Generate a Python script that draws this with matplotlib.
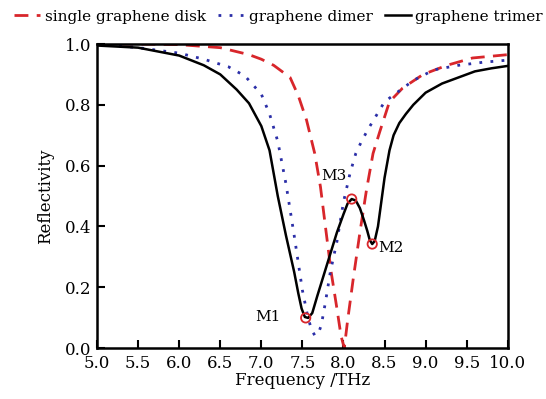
import numpy as np
from matplotlib import pyplot as plt

# 数据：从图上读出来的点
freq_disk = [5.0, 5.5, 6.0, 6.5, 6.85, 7.0, 7.15, 7.25, 7.35, 7.45, 7.55, 7.65, 7.72, 7.78,
             7.85, 7.92, 7.97, 8.01, 8.05, 8.12, 8.2, 8.28, 8.36, 8.44, 8.56, 8.72, 8.97,
             9.26, 9.57, 10.0]
refl_disk = [1.0, 1.0, 0.998, 0.988, 0.965, 0.95, 0.93, 0.91, 0.89, 0.83, 0.75, 0.64, 0.53, 0.40,
             0.25, 0.13, 0.04, 0.0, 0.09, 0.23, 0.38, 0.52, 0.64, 0.71, 0.81, 0.855, 0.90,
             0.93, 0.954, 0.965]

freq_dimer = [5.0, 5.5, 6.0, 6.3, 6.6, 6.8, 7.0, 7.1, 7.2, 7.3, 7.4, 7.5, 7.56, 7.61, 7.65,
              7.69, 7.73, 7.78, 7.84, 7.92, 8.0, 8.08, 8.15, 8.22, 8.3, 8.4, 8.5, 8.65, 8.85,
              9.1, 9.4, 9.7, 10.0]
refl_dimer = [1.0, 0.988, 0.97, 0.95, 0.925, 0.895, 0.835, 0.77, 0.68, 0.54, 0.37, 0.19, 0.11,
              0.06, 0.042, 0.045, 0.075, 0.15, 0.25, 0.35, 0.48, 0.575, 0.64, 0.68, 0.72, 0.765,
              0.81, 0.84, 0.88, 0.915, 0.93, 0.94, 0.947]

freq_trimer = [5.0, 5.5, 6.0, 6.3, 6.5, 6.7, 6.85, 7.0, 7.1, 7.2, 7.3, 7.4, 7.45, 7.49, 7.53,
               7.57, 7.62, 7.68, 7.76, 7.84, 7.92, 8.0, 8.05, 8.1, 8.15, 8.2, 8.25, 8.29, 8.32,
               8.35, 8.38, 8.42, 8.46, 8.5, 8.56, 8.61, 8.68, 8.76, 8.85, 9.0, 9.2, 9.4, 9.6,
               9.8, 10.0]
refl_trimer = [0.995, 0.988, 0.962, 0.93, 0.90, 0.85, 0.805, 0.73, 0.65, 0.50, 0.37, 0.25, 0.18,
               0.13, 0.102, 0.099, 0.115, 0.17, 0.24, 0.31, 0.38, 0.44, 0.475, 0.49, 0.485,
               0.46, 0.42, 0.385, 0.355, 0.342, 0.352, 0.40, 0.48, 0.56, 0.65, 0.70, 0.74, 0.77,
               0.80, 0.84, 0.87, 0.89, 0.91, 0.92, 0.928]

# 标记点 M1, M2, M3
mark_names = ['M1', 'M2', 'M3']
mark_freq = [7.54, 8.35, 8.10]
mark_refl = [0.099, 0.342, 0.49]

plt.rcParams['font.family'] = ['DejaVu Serif']

fig = plt.figure(figsize=(5.46, 3.99), dpi=100)
ax = fig.add_axes([0.1777, 0.1278, 0.7523, 0.7619])

ax.plot(freq_disk, refl_disk, color='#d8262b', linestyle=(0, (5, 3)), linewidth=2,
        label='single graphene disk')
ax.plot(freq_dimer, refl_dimer, color='#2b2fa8', linestyle=(0, (1, 3)), linewidth=2,
        label='graphene dimer')
ax.plot(freq_trimer, refl_trimer, color='black', linewidth=1.8, label='graphene trimer')

ax.scatter(mark_freq, mark_refl, s=45, facecolors='none', edgecolors='#d8262b',
           linewidths=1.3, zorder=5)
ax.annotate('M1', (mark_freq[0], mark_refl[0]), xytext=(-36, -2), textcoords='offset points',
            fontsize=11)
ax.annotate('M2', (mark_freq[1], mark_refl[1]), xytext=(4, -6), textcoords='offset points',
            fontsize=11)
ax.annotate('M3', (mark_freq[2], mark_refl[2]), xytext=(-22, 14), textcoords='offset points',
            fontsize=11)

ax.set_xlim(5, 10)
ax.set_ylim(0, 1)
ax.set_xticks(np.arange(5, 10.01, 0.5))
ax.set_yticks(np.arange(0, 1.01, 0.2))
ax.xaxis.set_major_formatter(plt.FormatStrFormatter('%.1f'))
ax.yaxis.set_major_formatter(plt.FormatStrFormatter('%.1f'))
ax.tick_params(direction='in', length=6, width=1.5, labelsize=12)
ax.tick_params(axis='x', pad=5)
ax.tick_params(axis='y', pad=4)
for s in ax.spines.values():
    s.set_linewidth(1.8)

ax.set_xlabel('Frequency /THz', fontsize=12, labelpad=0)
ax.set_ylabel('Reflectivity', fontsize=12, labelpad=8)

fig.legend(loc='upper center', bbox_to_anchor=(0.51, 1.01), ncol=3, frameon=False,
           fontsize=11, handlelength=1.7, handletextpad=0.3, columnspacing=0.8)

fig.savefig('out.png', dpi=100)
